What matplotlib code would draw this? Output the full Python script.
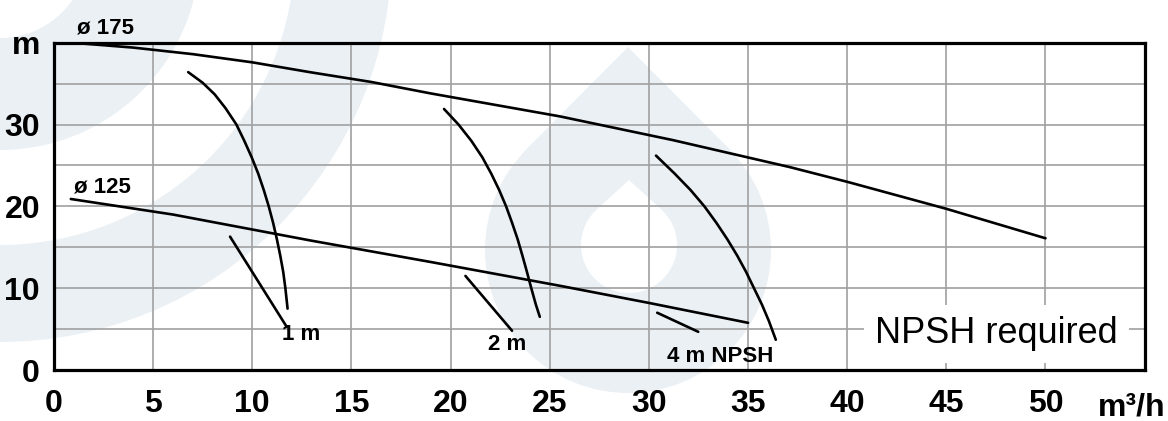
import numpy as np
import matplotlib.pyplot as plt
from matplotlib.patches import Wedge, Circle, Polygon

plt.rcParams['font.family'] = ['Liberation Sans', 'DejaVu Sans']

# head curves: flow (m3/h) vs head (m)
q_175 = [0.9, 4, 7, 10, 12.9, 16, 19, 25.5, 31.2, 37.1, 40, 45, 50]
h_175 = [40.0, 39.4, 38.6, 37.6, 36.4, 35.2, 33.8, 31.0, 28.1, 24.8, 23.0, 19.7, 16.1]
q_125 = [0.85, 6, 13, 19, 25.5, 30, 35]
h_125 = [20.9, 19.0, 15.8, 13.2, 10.3, 8.2, 5.77]

# NPSH curves (long one on ø175 side, short tick on ø125 side)
q_npsh1 = [6.77, 7.5, 8.1, 8.65, 9.2, 9.6, 9.97, 10.3, 10.58, 10.83, 11.05,
           11.24, 11.41, 11.56, 11.67, 11.78]
h_npsh1 = [36.4, 35.1, 33.7, 32, 30, 28, 26, 24, 22, 20, 18, 16, 14, 12, 10, 7.5]
q_npsh1_s = [8.88, 11.73]
h_npsh1_s = [16.3, 5.3]

q_npsh2 = [19.67, 20.4, 21.05, 21.6, 22.05, 22.45, 22.8, 23.1, 23.38,
           23.62, 23.85, 24.07, 24.3, 24.5]
h_npsh2 = [31.9, 30, 28, 26, 24, 22, 20, 18, 16, 14, 12, 10, 8, 6.5]
q_npsh2_s = [20.75, 23.1]
h_npsh2_s = [11.5, 4.8]

q_npsh4 = [30.36, 31.3, 32.1, 32.8, 33.4, 33.95, 34.45, 34.9, 35.3,
           35.7, 36.05, 36.4]
h_npsh4 = [26.2, 24, 22, 20, 18, 16, 14, 12, 10, 8, 6, 3.7]
q_npsh4_s = [30.42, 32.49]
h_npsh4_s = [7.0, 4.67]

x_ticks = [0, 5, 10, 15, 20, 25, 30, 35, 40, 45, 50]
y_ticks = [0, 5, 10, 15, 20, 25, 30, 35, 40]
y_ticklabels = ['0', '', '10', '', '20', '', '30', '', 'm']

# curve labels: text, x, baseline y
labels = [
    ('ø 175', 1.14, 41.1),
    ('ø 125', 1.0, 21.7),
    ('1 m', 11.48, 3.66),
    ('2 m', 21.9, 2.44),
    ('4 m NPSH', 30.9, 1.0),
]

fig = plt.figure(figsize=(11.68, 4.21), dpi=100)

# faint logo watermark behind the chart (pixel coordinates)
wm = '#ebf0f4'
bg = fig.add_axes([0, 0, 1, 1], zorder=-1)
bg.set_xlim(0, 1168)
bg.set_ylim(421, 0)
bg.axis('off')
bg.add_patch(Wedge((0, -50), 200, 0, 360, width=112, color=wm, lw=0))
bg.add_patch(Wedge((0, -50), 392, 0, 360, width=97, color=wm, lw=0))


def drop(cx, cy, r, tip_y, color):
    d = cy - tip_y
    a = np.arccos(r / d)
    p1 = (cx - r * np.sin(a), cy - r * np.cos(a))
    p2 = (cx + r * np.sin(a), cy - r * np.cos(a))
    bg.add_patch(Circle((cx, cy), r, color=color, lw=0))
    bg.add_patch(Polygon([(cx, tip_y), p2, (cx, cy), p1], closed=True, color=color, lw=0))


drop(628, 250, 143, 47, wm)
drop(629, 245, 48, 180, 'white')

ax = fig.add_axes([0.0462, 0.1211, 0.9338, 0.7775])
ax.set_facecolor('none')
ax.set_axisbelow(True)

curves = [(q_175, h_175), (q_125, h_125),
          (q_npsh1, h_npsh1), (q_npsh1_s, h_npsh1_s),
          (q_npsh2, h_npsh2), (q_npsh2_s, h_npsh2_s),
          (q_npsh4, h_npsh4), (q_npsh4_s, h_npsh4_s)]
for q, h in curves:
    ax.plot(q, h, color='black', lw=1.9, solid_capstyle='round', solid_joinstyle='round')

for txt, x, y in labels:
    ax.text(x, y, txt, fontsize=16, fontweight='bold', ha='left', va='baseline', clip_on=False)

ax.text(41.4, 3.25, 'NPSH required', fontsize=26, ha='left', va='baseline',
        bbox=dict(facecolor='white', edgecolor='none', pad=8), zorder=3)

ax.set_xlim(0, 55)
ax.set_ylim(0, 40)
ax.set_xticks(x_ticks)
ax.set_yticks(y_ticks)
ax.set_yticklabels(y_ticklabels)
ax.grid(True, color='#a0a0a0', lw=1.2)
ax.tick_params(length=0, labelsize=23, pad=10)
ax.tick_params(axis='x', pad=14)
for lab in ax.get_xticklabels() + ax.get_yticklabels():
    lab.set_fontweight('bold')
for sp in ax.spines.values():
    sp.set_linewidth(2.3)

fig.text(1166 / 1168, 6 / 421, 'm³/h', fontsize=23, fontweight='bold', ha='right', va='baseline')

fig.savefig('out.png', dpi=100)
